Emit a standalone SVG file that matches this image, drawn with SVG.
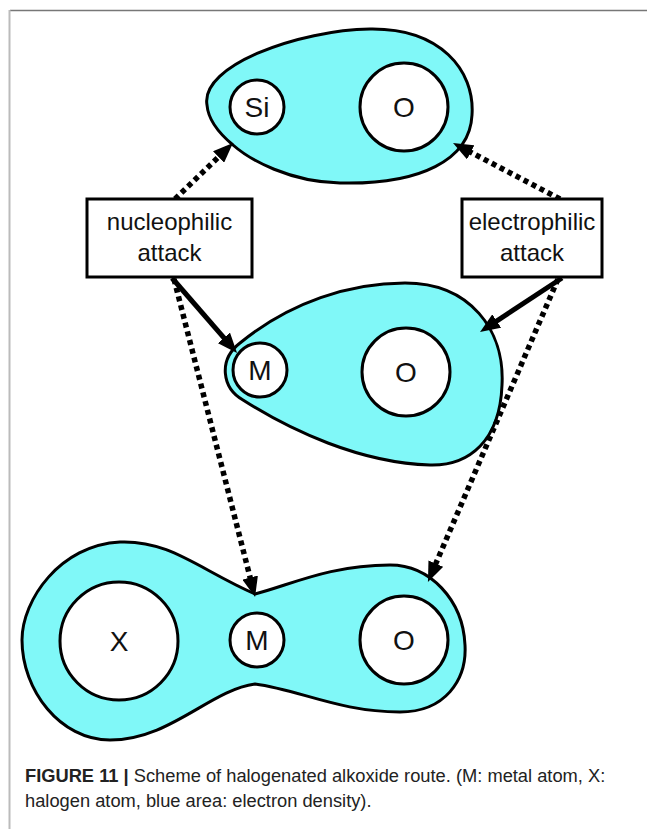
<svg xmlns="http://www.w3.org/2000/svg" width="647" height="829" viewBox="0 0 647 829">
<style>
.blob{fill:#80f8f8;stroke:#000;stroke-width:3}
.atom{fill:#fff;stroke:#000;stroke-width:3}
.lbl{font-family:"Liberation Sans",Arial,sans-serif;font-size:28px;fill:#111;text-anchor:middle}
.box{fill:#fff;stroke:#000;stroke-width:3}
.btxt{font-family:"Liberation Sans",Arial,sans-serif;font-size:24px;fill:#111;text-anchor:middle}
.dot{fill:none;stroke:#000;stroke-width:5.5;stroke-dasharray:5 4}
.sol{fill:none;stroke:#000;stroke-width:5}
.cap{font-family:"Liberation Sans",Arial,sans-serif;font-size:18.3px;fill:#222}
</style>
<defs>
<marker id="ah" markerUnits="userSpaceOnUse" markerWidth="20" markerHeight="16" viewBox="0 0 20 16" refX="12" refY="8" orient="auto">
<path d="M0,0 L20,8 L0,16 Z" fill="#000"/>
</marker>
</defs>
<rect width="647" height="829" fill="#fff"/>
<g id="frame">
<line x1="10" y1="10.5" x2="647" y2="10.5" stroke="#777" stroke-width="1.5"/>
<line x1="9.5" y1="10" x2="9.5" y2="829" stroke="#bbb" stroke-width="2"/>
</g>
<g id="top-molecule">
<path class="blob" d="M207,105 C200,65 300,30 370,29 C440,28 475,70 472,115 C470,160 420,185 340,183 C290,182 250,160 233,145 C215,130 208,118 207,105 Z"/>
<circle class="atom" cx="257" cy="107" r="27"/>
<text class="lbl" x="257" y="117">Si</text>
<circle class="atom" cx="404" cy="107" r="44"/>
<text class="lbl" x="404" y="117">O</text>
</g>
<g id="middle-molecule">
<path class="blob" d="M240,343 C290,302 350,283 405,283 C470,283 505,330 502,385 C500,440 470,466 430,465 C360,463 290,430 243,400 C222,388 218,360 240,343 Z"/>
<circle class="atom" cx="260" cy="370" r="27"/>
<text class="lbl" x="260" y="380">M</text>
<circle class="atom" cx="406" cy="372" r="44"/>
<text class="lbl" x="406" y="382">O</text>
</g>
<g id="bottom-molecule">
<path class="blob" d="M255,594 C200,570 170,540 120,542 C60,545 22,600 22,640 C22,690 60,740 110,740 C170,740 210,690 255,684 C300,690 340,712 400,712 C445,712 467,680 465,645 C463,600 430,565 390,565 C330,565 290,585 255,594 Z"/>
<circle class="atom" cx="119" cy="641" r="59"/>
<text class="lbl" x="119" y="651">X</text>
<circle class="atom" cx="257" cy="640" r="27"/>
<text class="lbl" x="257" y="650">M</text>
<circle class="atom" cx="404" cy="640" r="44"/>
<text class="lbl" x="404" y="650">O</text>
</g>
<g id="connectors">
<line class="dot" x1="175" y1="199" x2="227.2" y2="148.6" marker-end="url(#ah)"/>
<line class="dot" x1="560" y1="199" x2="460.1" y2="146.7" marker-end="url(#ah)"/>
<line class="sol" x1="172" y1="278" x2="231.8" y2="346.9" marker-end="url(#ah)"/>
<line class="sol" x1="562" y1="278" x2="486.7" y2="327.6" marker-end="url(#ah)"/>
<line class="dot" x1="174" y1="279" x2="253.1" y2="589.2" marker-end="url(#ah)"/>
<line class="dot" x1="558" y1="279" x2="431.1" y2="574.6" marker-end="url(#ah)"/>
</g>
<g id="nucleophilic-box">
<rect class="box" x="87" y="199" width="165" height="78"/>
<text class="btxt" x="169.5" y="230">nucleophilic</text>
<text class="btxt" x="169.5" y="261">attack</text>
</g>
<g id="electrophilic-box">
<rect class="box" x="462" y="199" width="140" height="78"/>
<text class="btxt" x="532" y="230">electrophilic</text>
<text class="btxt" x="532" y="261">attack</text>
</g>
<g id="caption">
<text class="cap" x="25" y="782"><tspan font-weight="bold">FIGURE 11 |</tspan> Scheme of halogenated alkoxide route. (M: metal atom, X:</text>
<text class="cap" x="25" y="807">halogen atom, blue area: electron density).</text>
</g>
</svg>
